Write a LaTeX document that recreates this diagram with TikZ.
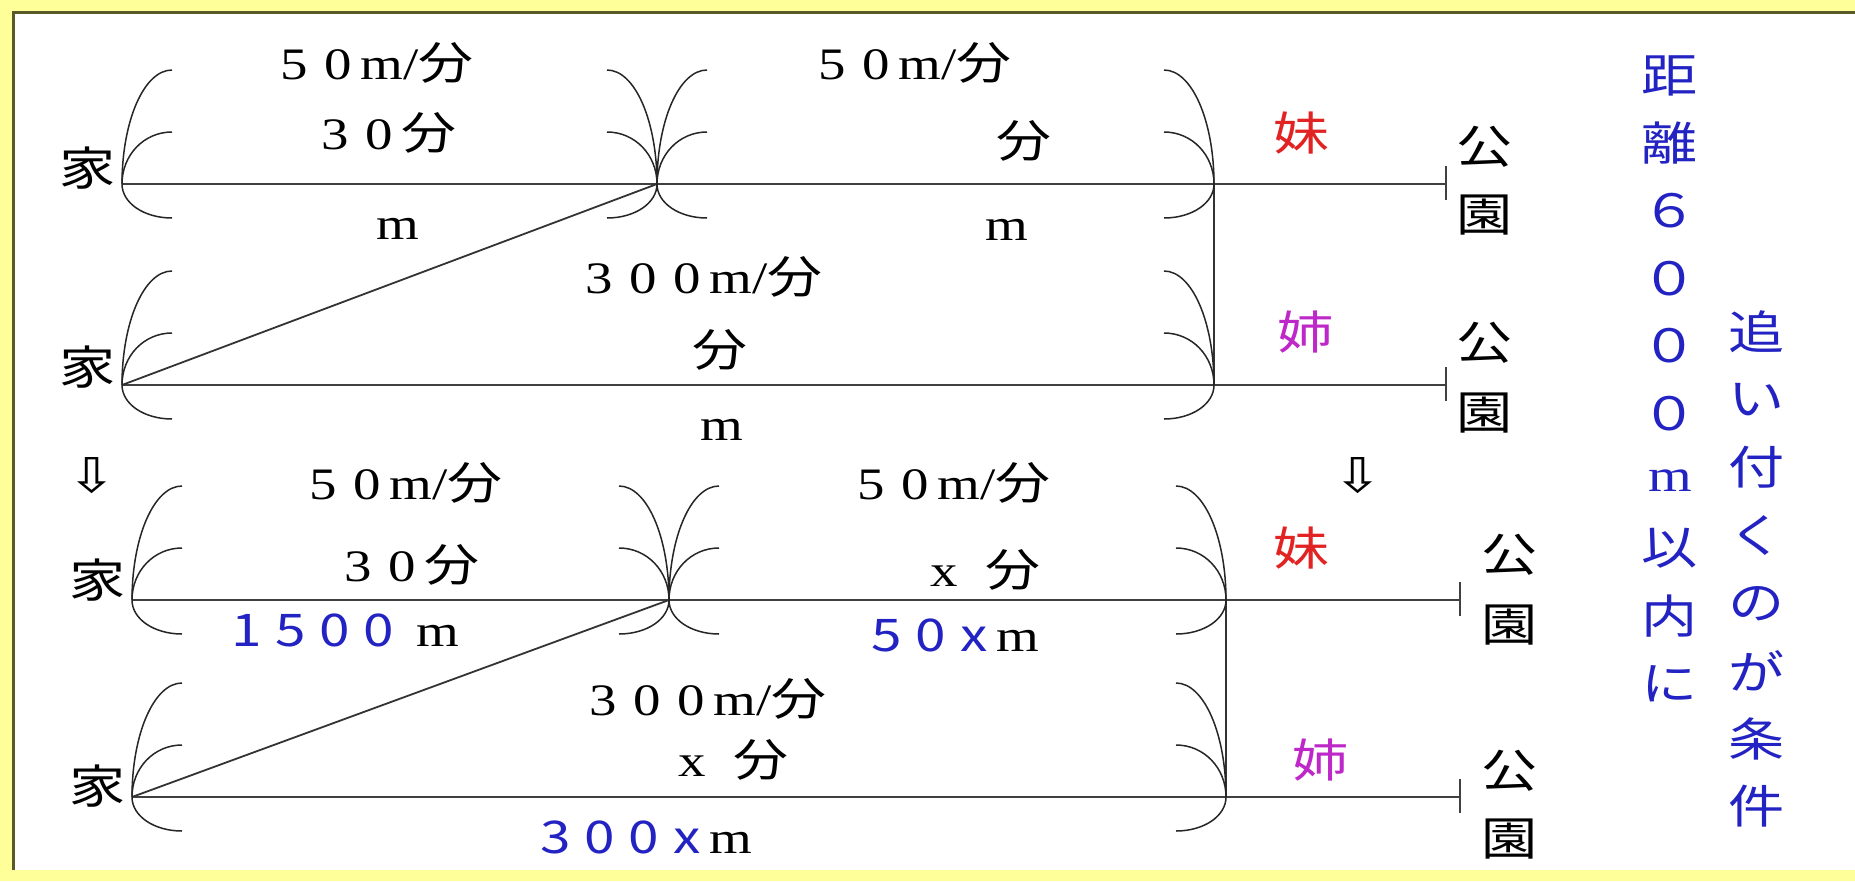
\documentclass[tikz,border=0pt]{standalone}
\usepackage{fontspec}
\setmainfont{Liberation Serif}
\newfontfamily\cjk{Noto Sans CJK JP}
\newfontfamily\sym{DejaVu Sans}
\usetikzlibrary{calc}
\definecolor{cPaper}{RGB}{255,255,153}
\definecolor{cFrame}{RGB}{90,90,40}
\definecolor{cBlue}{RGB}{35,35,195}
\definecolor{cImo}{RGB}{225,35,35}
\definecolor{cAne}{RGB}{190,40,200}
\newcommand\zd[1]{\makebox[0.8em]{#1}}
\newcommand\zb[1]{\makebox[0.8em]{#1}}
\newcommand\fun{{\cjk 分}}

\begin{document}
\begin{tikzpicture}[
  x=1pt, y=-1pt,
  every node/.style={inner sep=0pt, xscale=1.22, font=\fontsize{45}{50}\selectfont},
  road/.style={draw=black!75, line width=2.4pt},
  slant/.style={draw=black!80, line width=1.8pt},
  arcline/.style={draw=black!85, line width=1.5pt},
  kanji/.style={font=\fontsize{46}{50}\selectfont\cjk},
  colchar/.style={kanji, text=cBlue},
  downarr/.style={font=\fontsize{48}{50}\selectfont\sym},
]
  \useasboundingbox (0,0) rectangle (1855,881);
  \fill[cPaper] (0,0) rectangle (1855,881);
  \fill[white] (13,12) rectangle (1855,870);
  \draw[cFrame, line width=3pt] (13,870) -- (13,12) -- (1855,12);

  \coordinate (h1) at (122,184);
  \coordinate (j1) at (657,184);
  \coordinate (p1) at (1214,184);
  \coordinate (e1) at (1446,184);
  \coordinate (h2) at (122,385);
  \coordinate (p2) at (1214,385);
  \coordinate (e2) at (1446,385);
  \coordinate (h3) at (132,600);
  \coordinate (j3) at (669,600);
  \coordinate (p3) at (1226,600);
  \coordinate (e3) at (1460,600);
  \coordinate (h4) at (132,797);
  \coordinate (p4) at (1226,797);
  \coordinate (e4) at (1460,797);

  \node[kanji, anchor=east] (ie1) at (116,168) {家};
  \node (v1a) at (373,63) {\zd5\zd0m/\fun};
  \node (t1a) at (385,133) {\zd3\zd0\fun};
  \node (d1a) at (398,229) {m};
  \node (v1b) at (911,63) {\zd5\zd0m/\fun};
  \node (t1b) at (1024,141) {\fun};
  \node (d1b) at (1007,230) {m};
  \node[kanji, text=cImo] (imo1) at (1302,133) {妹};
  \node[kanji] (ko1) at (1485,147) {公};
  \node[kanji] (en1) at (1485,215) {園};

  \node[kanji, anchor=east] (ie2) at (116,367) {家};
  \node (v2) at (700,277) {\zd3\zd0\zd0m/\fun};
  \node (t2) at (720,350) {\fun};
  \node (d2) at (722,430) {m};
  \node[kanji, text=cAne] (ane2) at (1306,332) {姉};
  \node[kanji] (ko2) at (1485,343) {公};
  \node[kanji] (en2) at (1485,413) {園};

  \node[downarr] (ar1) at (92,476) {⇩};
  \node[downarr] (ar2) at (1358,476) {⇩};

  \node[kanji, anchor=east] (ie3) at (126,580) {家};
  \node (v3a) at (402,483) {\zd5\zd0m/\fun};
  \node (t3a) at (408,565) {\zd3\zd0\fun};
  \node (d3a) at (342,630) {{\cjk\color{cBlue}\zb1\zb5\zb0\zb0}\hspace{0.3em}m};
  \node (v3b) at (950,483) {\zd5\zd0m/\fun};
  \node (t3b) at (985,570) {x\hspace{0.5em}\fun};
  \node (d3b) at (952,635) {{\cjk\color{cBlue}\zb5\zb0\zb x}m};
  \node[kanji, text=cImo] (imo3) at (1302,548) {妹};
  \node[kanji] (ko3) at (1510,555) {公};
  \node[kanji] (en3) at (1510,625) {園};

  \node[kanji, anchor=east] (ie4) at (126,786) {家};
  \node (v4) at (704,699) {\zd3\zd0\zd0m/\fun};
  \node (t4) at (733,760) {x\hspace{0.5em}\fun};
  \node (d4) at (643,837) {{\cjk\color{cBlue}\zb3\zb0\zb0\zb x}m};
  \node[kanji, text=cAne] (ane4) at (1321,760) {姉};
  \node[kanji] (ko4) at (1510,771) {公};
  \node[kanji] (en4) at (1510,839) {園};

  \foreach \c [count=\i] in {距,離,６,０,０,０,{\rmfamily m},以,内,に}
    \node[colchar] (kyori\i) at (1670,{76+67.5*(\i-1)}) {\c};
  \foreach \c [count=\i] in {追,い,付,く,の,が,条,件}
    \node[colchar] (jouken\i) at (1757,{332+67.8*(\i-1)}) {\c};

  \draw[road] (h1) -- (e1);
  \draw[road] (h2) -- (e2);
  \draw[road] (h3) -- (e3);
  \draw[road] (h4) -- (e4);
  \draw[slant] (h2) -- (j1);
  \draw[slant] (h4) -- (j3);
  \draw[slant] (p1) -- (p2);
  \draw[slant] (p3) -- (p4);
  \foreach \p in {e1,e2,e3,e4}
    \draw[road] ($(\p)+(0,-18)$) -- ($(\p)+(0,16)$);

  \foreach \p/\s in {h1/1,j1/-1,j1/1,p1/-1,h2/1,p2/-1,h3/1,j3/-1,j3/1,p3/-1,h4/1,p4/-1} {
    \draw[arcline] (\p) .. controls ($(\p)+(0,-63)$) and ($(\p)+(\s*22,-114)$) .. ($(\p)+(\s*50,-114)$);
    \draw[arcline] (\p) .. controls ($(\p)+(0,-29)$) and ($(\p)+(\s*22,-52)$) .. ($(\p)+(\s*50,-52)$);
    \draw[arcline] (\p) .. controls ($(\p)+(0,19)$) and ($(\p)+(\s*22,34)$) .. ($(\p)+(\s*50,34)$);
  }
\end{tikzpicture}
\end{document}
